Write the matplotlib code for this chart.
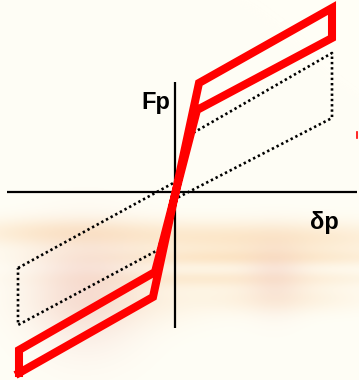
import numpy as np
import matplotlib
matplotlib.use("Agg")
import matplotlib.pyplot as plt

# Hysteresis loop (red) of the pinned element: force Fp vs. displacement δp
loop_x = [-156, -22, 24, 157, 157, 22, -20, -156, -156]
loop_y = [-181, -105, 109, 184, 154, 82, -80, -158, -181]

# Reference loop drawn dotted
ref_x = [-157, 2, 18, 157, 157, -2, -17, -157, -157]
ref_y = [-76, 11, 59, 139, 74, -8, -58, -133, -76]

# Axis extents
h_axis = [-168, 182]
v_axis = [-136, 110]

W, H = 359, 380
fig = plt.figure(figsize=(W / 100, H / 100), dpi=100)
ax = fig.add_axes([0, 0, 1, 1])
ax.set_xlim(-175, 184)
ax.set_ylim(-188, 192)
ax.axis("off")

# Soft, faded backdrop: cream with washed-out peach streaks in the lower half
yy, xx = np.mgrid[0:H, 0:W].astype(float)
base = np.array([255, 254, 246]) / 255.0
peach = np.array([250, 212, 165]) / 255.0
pink = np.array([240, 196, 188]) / 255.0

def blob(cx, cy, sx, sy, amp):
    return amp * np.exp(-(((xx - cx) / sx) ** 2 + ((yy - cy) / sy) ** 2) / 2)

w_peach = (blob(260, 238, 110, 12, 0.55) + blob(240, 258, 120, 6, 0.45)
           + blob(230, 278, 110, 6, 0.40) + blob(60, 232, 70, 10, 0.45)
           + blob(280, 298, 60, 10, 0.30) + blob(120, 300, 60, 18, 0.25))
w_pink = blob(85, 290, 38, 40, 0.5) + blob(275, 275, 20, 25, 0.35)
w_peach = np.clip(w_peach, 0, 0.8)
w_pink = np.clip(w_pink, 0, 0.6)
img = base[None, None, :] * (1 - w_peach[..., None]) + peach[None, None, :] * w_peach[..., None]
img = img * (1 - w_pink[..., None]) + pink[None, None, :] * w_pink[..., None]
ax.imshow(img, extent=(-175, 184, -188, 192), aspect="auto", zorder=0, interpolation="bilinear")

# Axes
ax.plot(h_axis, [0, 0], color="black", lw=1.6, zorder=2, solid_capstyle="butt")
ax.plot([0, 0], v_axis, color="black", lw=1.6, zorder=2, solid_capstyle="butt")

# Dotted reference loop
ax.plot(ref_x, ref_y, color="black", lw=1.9, linestyle=(0, (0.9, 1.1)), zorder=3)

# Red loop
ax.plot(loop_x, loop_y, color="#ff0000", lw=5.8, solid_joinstyle="miter", zorder=4)
ax.plot([182, 182], [54, 60], color="#ff0000", lw=1.2, zorder=4)

# Labels
ax.text(-5, 90, "Fp", fontsize=17, fontweight="bold", family="Liberation Sans",
        ha="right", va="center", zorder=5)
ax.text(149, -30, "δp", fontsize=17, fontweight="bold", family="Liberation Sans",
        ha="center", va="center", zorder=5)

fig.savefig("out.png", dpi=100)
